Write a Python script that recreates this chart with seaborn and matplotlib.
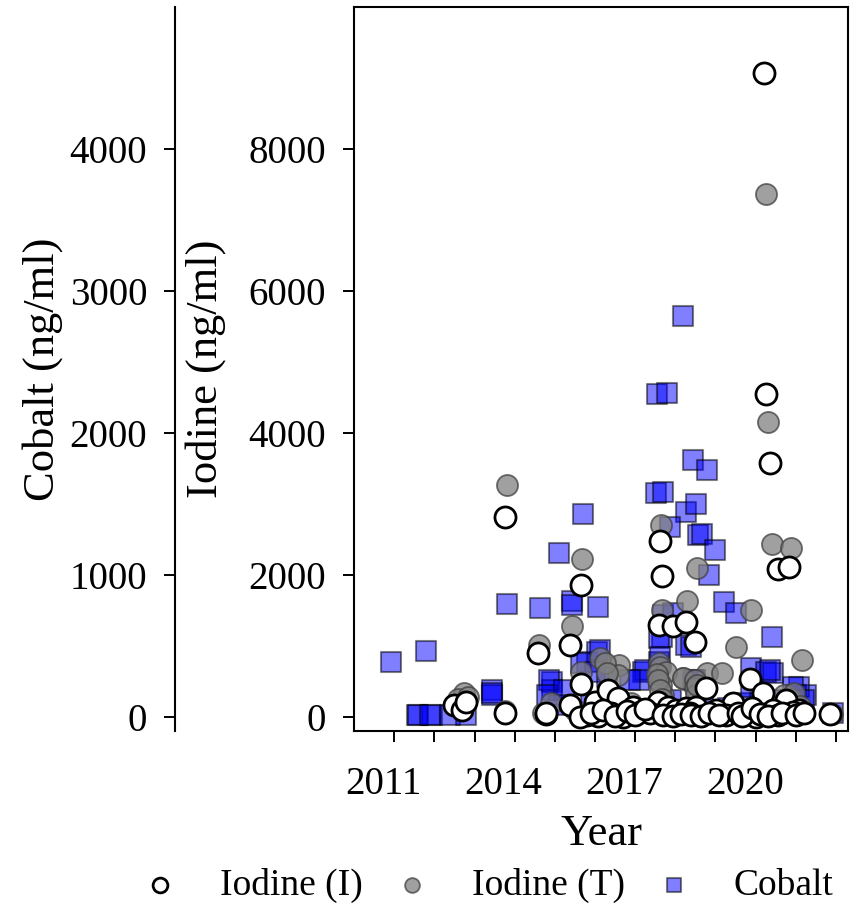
import numpy as np
import pandas as pd
import seaborn as sns
import matplotlib.pyplot as plt
from matplotlib.transforms import ScaledTranslation

# Iodine (I) - white circles, ng/ml
iod_i_year = [2013.77, 2013.77, 2012.5, 2012.7, 2012.8, 2014.58, 2014.77, 2015.65, 2015.39, 2015.65,
              2015.39, 2017.63, 2017.67, 2017.6, 2017.93, 2018.26, 2018.5, 2018.77, 2019.85, 2020.18,
              2020.55, 2020.83, 2020.25, 2020.36, 2020.2, 2021.84,
              2014.79, 2016.0, 2015.79, 2016.32, 2016.57, 2016.4, 2016.94, 2017.11, 2016.7, 2016.07,
              2017.57, 2017.82, 2018.02, 2018.27, 2018.48, 2017.37, 2015.62, 2019.43, 2020.76, 2021.09,
              2018.52, 2019.02, 2019.77, 2020.43, 2020.01, 2020.56, 2020.93, 2019.27, 2018.36,
              2015.9, 2016.2, 2016.5, 2016.8, 2017.0, 2017.25, 2017.7, 2017.95, 2018.15, 2018.4,
              2018.65, 2018.85, 2019.1, 2019.55, 2019.65, 2019.9, 2020.1, 2020.3, 2020.65, 2021.0, 2021.2]
iod_i_val = [2810, 50, 165, 95, 205, 900, 38, 1855, 1010, 460,
             165, 2474, 1985, 1290, 1277, 1338, 1056, 405, 526, 329,
             2080, 2104, 4553, 3577, 9068, 35,
             52, 211, 24, 376, 259, 48, 141, 70, 0, 5,
             211, 141, 94, 118, 70, 48, 0, 188, 235, 94,
             141, 94, 48, 94, 0, 24, 70, 24, 52,
             60, 100, 10, 80, 20, 110, 30, 10, 40, 20,
             10, 60, 30, 60, 10, 120, 40, 10, 60, 20, 60]

# Iodine (T) - grey circles, ng/ml
iod_t_year = [2013.8, 2015.68, 2015.43, 2014.6, 2012.73, 2012.6, 2012.85, 2015.64, 2017.64, 2018.3,
              2018.54, 2017.68, 2016.6, 2019.89, 2019.52, 2021.16, 2016.57, 2018.8, 2019.17, 2018.18,
              2017.6, 2020.3, 2020.4, 2020.89, 2020.25, 2016.12, 2016.25, 2016.3, 2017.62, 2017.78,
              2018.2, 2014.9, 2018.5, 2013.77, 2014.7, 2015.5, 2016.0, 2016.9, 2017.3, 2017.7,
              2017.65, 2017.55, 2017.58, 2017.63, 2017.66, 2018.48, 2018.52, 2018.55, 2020.7, 2020.85,
              2020.95, 2019.0, 2019.6, 2020.0, 2021.1, 2021.9, 2020.45]
iod_t_val = [3262, 2230, 1282, 1010, 333, 250, 280, 634, 2709, 1633,
             2090, 1502, 728, 1502, 977, 798, 587, 611, 611, 545,
             756, 4154, 2441, 2380, 7360, 822, 752, 611, 700, 634,
             540, 188, 516, 80, 60, 100, 150, 200, 100, 300,
             450, 600, 520, 380, 250, 400, 300, 450, 300, 250,
             330, 50, 100, 80, 150, 40, 150]

# Cobalt - blue squares, ng/ml
co_year = [2010.93, 2011.78, 2013.81, 2014.62, 2015.1, 2015.7, 2015.43, 2015.43, 2016.07, 2014.93,
           2013.44, 2013.44, 2013.44, 2011.57, 2011.94, 2012.4, 2012.8, 2011.6, 2011.9, 2015.8,
           2016.05, 2014.92, 2017.2, 2017.53, 2017.69, 2018.27, 2018.52, 2017.86, 2018.56, 2017.67,
           2017.6, 2018.2, 2017.54, 2017.79, 2018.45, 2018.8, 2018.66, 2019.0, 2018.85, 2019.2,
           2019.5, 2020.41, 2019.89, 2020.26, 2020.43, 2021.26, 2021.09, 2017.69, 2017.94, 2018.27,
           2017.24, 2017.1, 2017.6, 2018.44, 2021.92, 2019.68, 2020.93, 2020.35, 2019.88, 2016.12,
           2015.66, 2014.85, 2014.81, 2015.24, 2016.0, 2017.62, 2018.4, 2018.48, 2016.3, 2016.87,
           2015.1, 2015.9, 2016.5, 2017.9, 2018.7, 2019.3, 2020.1, 2020.7, 2021.0, 2021.2]
co_val = [387, 462, 793, 767, 1155, 1427, 817, 786, 774, 246,
          188, 153, 170, 12, 12, 12, 12, 12, 12, 387,
          458, 188, 317, 1573, 1584, 1443, 1502, 1338, 1279, 563,
          387, 2821, 2277, 2281, 1807, 1737, 1286, 1174, 998, 810,
          728, 559, 341, 317, 305, 153, 211, 716, 728, 505,
          329, 258, 552, 258, 24, 94, 211, 330, 211, 470,
          376, 258, 153, 188, 317, 422, 493, 258, 282, 258,
          80, 100, 60, 120, 80, 60, 100, 120, 150, 120]

iod_i = pd.DataFrame({"Year": iod_i_year, "Iodine": iod_i_val})
iod_t = pd.DataFrame({"Year": iod_t_year, "Iodine": iod_t_val})
cobalt = pd.DataFrame({"Year": co_year, "Cobalt": co_val})

sns.set_style("ticks")
plt.rcParams["font.family"] = ["Liberation Serif", "DejaVu Serif"]
plt.rcParams.update({"text.color": "black", "axes.labelcolor": "black",
                     "xtick.color": "black", "ytick.color": "black"})

fig = plt.figure(figsize=(8.51, 9.11), dpi=100)
ax = fig.add_axes([0.416, 0.1976, 0.5805, 0.7947])
ax2 = ax.twinx()

# cobalt on the twin axis, drawn underneath the iodine points
sns.scatterplot(data=cobalt, x="Year", y="Cobalt", ax=ax2, marker="s", s=190,
                color="blue", alpha=0.5, edgecolor="black", linewidth=1.5, label="Cobalt")
sns.scatterplot(data=iod_t, x="Year", y="Iodine", ax=ax, marker="o", s=230,
                color="#808080", alpha=0.75, edgecolor="#404040", linewidth=1.3, label="Iodine (T)")
sns.scatterplot(data=iod_i, x="Year", y="Iodine", ax=ax, marker="o", s=230,
                color="white", edgecolor="black", linewidth=2.0, label="Iodine (I)")

ax.set_zorder(ax2.get_zorder() + 1)
ax.patch.set_visible(False)

ax.set_xlim(2010, 2022.3)
ax.set_ylim(-200, 10000)
ax2.set_ylim(-100, 5000)

years = list(range(2011, 2023))
ax.set_xticks(years)
ax.set_xticklabels([str(y) if y in (2011, 2014, 2017, 2020) else "" for y in years])
ax.set_yticks([0, 2000, 4000, 6000, 8000])
ax2.set_yticks([0, 1000, 2000, 3000, 4000])

for sp in ax.spines.values():
    sp.set_visible(True)
    sp.set_linewidth(1.5)
    sp.set_color("black")
for side in ("top", "right", "bottom"):
    ax2.spines[side].set_visible(False)
ax2.spines["left"].set_visible(True)
ax2.spines["left"].set_linewidth(1.5)
ax2.spines["left"].set_color("black")
ax2.spines["left"].set_position(("outward", 129))
ax2.yaxis.tick_left()
ax2.yaxis.set_label_position("left")

ax.tick_params(axis="both", direction="out", length=8, width=1.4, labelsize=28, pad=12)
ax.tick_params(axis="x", pad=17)
ax.tick_params(top=False, right=False)
ax2.tick_params(axis="y", direction="out", length=8, width=1.4, labelsize=28, pad=12)

ax.set_xlabel("Year", fontsize=32, labelpad=8)
ax.set_ylabel("Iodine (ng/ml)", fontsize=32)
ax2.set_ylabel("Cobalt (ng/ml)", fontsize=32)
ax.yaxis.set_label_coords(-0.26, 0.5)
ax2.yaxis.set_label_coords(-0.589, 0.5)

offset = ScaledTranslation(-11 / 100, 0, fig.dpi_scale_trans)
for lab in ax.get_xticklabels():
    lab.set_transform(lab.get_transform() + offset)

h1, l1 = ax.get_legend_handles_labels()
h2, l2 = ax2.get_legend_handles_labels()
for a in (ax, ax2):
    if a.get_legend() is not None:
        a.get_legend().remove()
order = {"Iodine (I)": 0, "Iodine (T)": 1, "Cobalt": 2}
pairs = sorted(zip(h1 + h2, l1 + l2), key=lambda p: order[p[1]])
fig.legend([p[0] for p in pairs], [p[1] for p in pairs], ncol=3, loc="center",
           bbox_to_anchor=(0.573, 0.028), frameon=False, fontsize=27,
           handlelength=1.0, handletextpad=1.1, columnspacing=0.8, markerscale=0.7)

fig.savefig("out.png", dpi=100)
